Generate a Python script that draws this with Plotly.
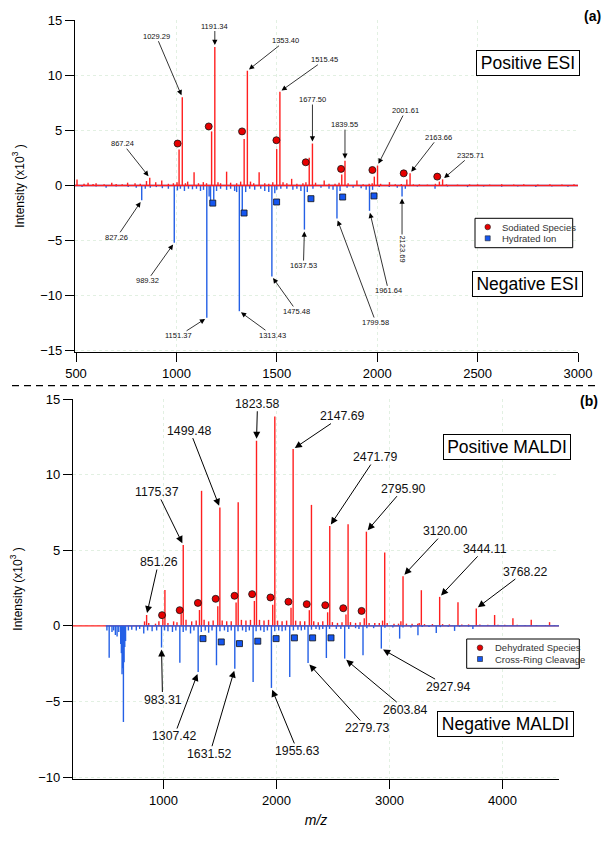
import plotly.graph_objects as go

# ---------------- DATA ----------------
# (a) ESI, positive mode (red sticks)
pos_esi_mz = [867.24, 1029.29, 1191.34, 1353.40, 1515.45, 1677.50, 1839.55, 2001.61, 2163.66, 2325.71]
pos_esi_int = [0.7, 8.0, 12.55, 10.4, 8.5, 3.8, 2.25, 1.8, 1.1, 0.55]
pos_esi_minor_mz = [505, 540, 560, 585, 600, 640, 678, 700, 730, 757, 794, 820, 851, 897, 927, 960, 985,
                    1003, 1013.3, 1045, 1056, 1088, 1110, 1134, 1150, 1175.3, 1207, 1220, 1250, 1270, 1300,
                    1320, 1337.4, 1369, 1385, 1412, 1440, 1460, 1480, 1499.4, 1531, 1550, 1574, 1600, 1630,
                    1645, 1661.5, 1693, 1736, 1760, 1790, 1810, 1823.5, 1855, 1899, 1930, 1960, 1975, 1985.6,
                    2017, 2061, 2090, 2120, 2147.6, 2180, 2210, 2250, 2290, 2309.7, 2345, 2400, 2460, 2500,
                    2560, 2620, 2680, 2730, 2800, 2860, 2920, 2980]
pos_esi_minor_int = [0.55, 0.15, 0.25, 0.12, 0.2, 0.1, 0.25, 0.12, 0.1, 0.25, 0.2, 0.15, 0.4, 0.3, 0.45, 0.15, 0.2,
                     0.3, 3.25, 0.2, 0.35, 1.2, 0.2, 0.3, 0.2, 4.9, 0.3, 0.2, 1.25, 0.25, 0.2,
                     0.35, 4.2, 0.35, 0.2, 1.2, 0.2, 0.15, 0.3, 3.3, 0.3, 0.2, 0.6, 0.15, 0.2,
                     0.3, 2.5, 0.25, 0.45, 0.15, 0.15, 0.25, 1.0, 0.2, 0.45, 0.1, 0.15, 0.2, 0.8,
                     0.15, 0.3, 0.1, 0.12, 0.55, 0.1, 0.1, 0.08, 0.15, 0.35, 0.1, 0.08, 0.1, 0.1,
                     0.08, 0.1, 0.08, 0.1, 0.08, 0.1, 0.08, 0.1]
sodiated_mz = [1006, 1161, 1327, 1498, 1644, 1820, 1976, 2132, 2299]
sodiated_int = [3.8, 5.35, 4.9, 4.1, 2.1, 1.5, 1.4, 1.1, 0.8]

# (a) ESI, negative mode (blue sticks)
neg_esi_mz = [827.26, 989.32, 1151.37, 1313.43, 1475.48, 1637.53, 1799.58, 1961.64, 2123.69]
neg_esi_int = [-1.35, -5.2, -12.0, -11.4, -8.25, -4.0, -3.0, -2.3, -1.0]
neg_esi_minor_mz = [530, 600, 650, 700, 760, 800, 845, 870, 900, 930, 960, 1005, 1020, 1040, 1060, 1080, 1100,
                    1120, 1135, 1163, 1170, 1186, 1200, 1220, 1250, 1270, 1290, 1300, 1328, 1345, 1365, 1390,
                    1420, 1440, 1460, 1490, 1500, 1520, 1550, 1580, 1600, 1620, 1652, 1680, 1720, 1760, 1780,
                    1815, 1850, 1880, 1920, 1945, 1977, 2010, 2060, 2100, 2140, 2200, 2288, 2350, 2450, 2530,
                    2620, 2700, 2790, 2870, 2950]
neg_esi_minor_int = [-0.15, -0.1, -0.2, -0.1, -0.15, -0.2, -0.3, -0.2, -0.15, -0.25, -0.3, -0.45, -0.3, -0.5, -0.3, -0.35, -0.3,
                     -0.5, -0.4, -1.0, -1.6, -1.3, -0.5, -0.3, -0.4, -0.3, -0.5, -0.6, -2.6, -0.6, -0.3, -0.4,
                     -0.3, -0.5, -0.6, -0.7, -0.4, -0.3, -0.3, -0.4, -0.3, -0.5, -0.6, -0.3, -0.2, -0.3, -0.4,
                     -0.5, -0.2, -0.2, -0.25, -0.4, -0.4, -0.15, -0.15, -0.2, -0.3, -0.1, -0.3, -0.1, -0.15, -0.1,
                     -0.12, -0.1, -0.15, -0.1, -0.12]
hydrated_mz = [1181, 1337, 1499, 1670, 1828, 1984]
hydrated_int = [-1.6, -2.5, -1.5, -1.2, -1.05, -0.95]

# (b) MALDI, positive mode (red sticks)
pos_maldi_mz = [851.26, 1013.31, 1175.37, 1337.42, 1499.48, 1661.53, 1823.58, 1985.64, 2147.69, 2309.74,
                2471.79, 2633.85, 2795.90, 2957.95, 3120.00, 3282.06, 3444.11, 3606.16, 3768.22, 3930.27,
                4092.32, 4254.37, 4416.43]
pos_maldi_int = [0.72, 2.37, 5.35, 8.93, 7.82, 8.18, 12.24, 13.85, 11.69, 8.0,
                 6.6, 6.72, 6.23, 4.86, 3.29, 2.36, 1.92, 1.57, 1.15, 0.72,
                 0.5, 0.4, 0.25]
pos_maldi_minor_mz = [833, 870, 930, 960, 995, 1040, 1090, 1120, 1157, 1200, 1250, 1290, 1319, 1360, 1400, 1440,
                      1481, 1520, 1560, 1600, 1643, 1690, 1730, 1770, 1805, 1850, 1890, 1930, 1967, 2010, 2050,
                      2090, 2129, 2170, 2210, 2250, 2291, 2330, 2370, 2410, 2453, 2495, 2540, 2580, 2615, 2655,
                      2700, 2740, 2777, 2820, 2870, 2910, 2939, 2980, 3040, 3080, 3101, 3150, 3200, 3250, 3263,
                      3310, 3380, 3470, 3530, 3640, 3700, 3800, 3870, 3960, 4020, 4130, 4200, 4300, 4380, 4460]
pos_maldi_minor_int = [0.3, 0.2, 0.15, 0.3, 0.45, 0.2, 0.3, 0.25, 0.8, 0.4, 0.3, 0.35, 1.05, 0.4, 0.3, 0.35,
                       1.3, 0.35, 0.3, 0.3, 1.55, 0.4, 0.35, 0.4, 1.65, 0.4, 0.35, 0.4, 1.4, 0.35, 0.3,
                       0.35, 1.2, 0.35, 0.3, 0.3, 1.04, 0.3, 0.25, 0.3, 0.9, 0.25, 0.2, 0.25, 0.75, 0.25,
                       0.2, 0.25, 0.5, 0.2, 0.2, 0.2, 0.35, 0.2, 0.15, 0.15, 0.3, 0.15, 0.15, 0.15, 0.2,
                       0.12, 0.12, 0.12, 0.1, 0.1, 0.1, 0.1, 0.08, 0.08, 0.08, 0.08, 0.06, 0.06, 0.06, 0.05]
dehydrated_mz = [988, 1144, 1305, 1462, 1629, 1785, 1947, 2106, 2268, 2432, 2591, 2753]
dehydrated_int = [0.71, 1.04, 1.52, 1.79, 1.99, 2.1, 1.88, 1.6, 1.44, 1.37, 1.17, 0.99]

# (b) MALDI, negative mode (blue sticks)
neg_maldi_mz = [983.31, 1145.36, 1307.42, 1469.47, 1631.52, 1793.57, 1955.63, 2117.68, 2279.73, 2441.78,
                2603.84, 2765.89, 2927.94, 3089.99, 3252.05, 3414.10, 3576.15, 3738.20]
neg_maldi_int = [-1.43, -2.43, -3.05, -2.6, -2.83, -3.7, -4.1, -3.37, -2.45, -2.12,
                 -2.16, -1.94, -1.5, -0.84, -0.62, -0.47, -0.33, -0.2]
neg_maldi_minor_mz = [500, 520, 545, 560, 575, 590, 605, 622, 628, 634, 640, 646, 652, 658, 665, 690, 720, 760,
                      790, 826, 860, 900, 940, 1010, 1040, 1080, 1110, 1175, 1200, 1240, 1270, 1335, 1370, 1400,
                      1430, 1500, 1540, 1570, 1600, 1660, 1700, 1730, 1760, 1820, 1860, 1890, 1920, 1985, 2020,
                      2050, 2080, 2150, 2190, 2220, 2250, 2310, 2350, 2380, 2410, 2470, 2530, 2570, 2640, 2700,
                      2730, 2800, 2860, 2960, 3030, 3120, 3190, 3290, 3350, 3450, 3520, 3620, 3700]
neg_maldi_minor_int = [-0.3, -2.1, -0.4, -0.3, -0.6, -0.7, -0.4, -1.2, -1.8, -3.2, -2.8, -6.35, -2.4, -1.4, -1.0, -0.3, -0.25, -0.3,
                       -0.2, -0.5, -0.3, -0.35, -0.3, -0.3, -0.35, -0.4, -0.3, -0.4, -0.3, -0.5, -0.3, -0.4, -0.3, -0.45,
                       -0.3, -0.35, -0.3, -0.4, -0.3, -0.35, -0.3, -0.4, -0.3, -0.35, -0.3, -0.4, -0.3, -0.35, -0.3,
                       -0.35, -0.3, -0.3, -0.25, -0.3, -0.25, -0.25, -0.2, -0.25, -0.2, -0.2, -0.2, -0.2, -0.2, -0.15,
                       -0.2, -0.15, -0.15, -0.12, -0.1, -0.1, -0.1, -0.08, -0.08, -0.08, -0.06, -0.06, -0.05]
cross_ring_mz = [1350, 1512, 1673, 1835, 1997, 2159, 2320, 2483]
cross_ring_int = [-0.84, -1.06, -1.17, -1.01, -0.84, -0.79, -0.79, -0.79]

# spectrum baseline extents (m/z)
esi_span = [495, 3000]
maldi_pos_span = [200, 4500]
maldi_neg_span = [490, 4500]

# labelled peaks (value shown = m/z)
pos_esi_labels = pos_esi_mz
neg_esi_labels = neg_esi_mz
pos_maldi_labels = [851.26, 1175.37, 1499.48, 1823.58, 2147.69, 2471.79, 2795.90, 3120.00, 3444.11, 3768.22]
neg_maldi_labels = [983.31, 1307.42, 1631.52, 1955.63, 2279.73, 2603.84, 2927.94]

# ---------------- STYLE / LAYOUT ----------------
W, H = 616, 846
RED = '#ff1f1f'
BLUE = '#2460e6'
MRED = '#e60000'
MBLUE = '#1556f0'
FONT = 'Liberation Sans, Arial, sans-serif'


def px(x):
    return x / W


def py(y):
    return 1 - y / H


def sticks(mz, inten, span, mz2=(), int2=()):
    xs, ys = [span[0], span[1], None], [0, 0, None]
    for m, v in list(zip(mz2, int2)) + list(zip(mz, inten)):
        xs += [m, m, None]
        ys += [0, v, None]
    return xs, ys


fig = go.Figure()

# ---- panel (a)
x, y = sticks(neg_esi_mz, neg_esi_int, esi_span, neg_esi_minor_mz, neg_esi_minor_int)
fig.add_trace(go.Scatter(x=x, y=y, mode='lines', line=dict(color=BLUE, width=1.4),
                         xaxis='x', yaxis='y', showlegend=False, hoverinfo='skip'))
x, y = sticks(pos_esi_mz, pos_esi_int, esi_span, pos_esi_minor_mz, pos_esi_minor_int)
fig.add_trace(go.Scatter(x=x, y=y, mode='lines', line=dict(color=RED, width=1.4),
                         xaxis='x', yaxis='y', showlegend=False, hoverinfo='skip'))
fig.add_trace(go.Scatter(x=sodiated_mz, y=sodiated_int, mode='markers', name='Sodiated Species',
                         marker=dict(symbol='circle', size=7, color=MRED, line=dict(color='#111', width=0.8)),
                         xaxis='x', yaxis='y', showlegend=False))
fig.add_trace(go.Scatter(x=hydrated_mz, y=hydrated_int, mode='markers', name='Hydrated Ion',
                         marker=dict(symbol='square', size=6, color=MBLUE, line=dict(color='#111', width=0.8)),
                         xaxis='x', yaxis='y', showlegend=False))

# ---- panel (b)
x, y = sticks(pos_maldi_mz, pos_maldi_int, maldi_pos_span, pos_maldi_minor_mz, pos_maldi_minor_int)
fig.add_trace(go.Scatter(x=x, y=y, mode='lines', line=dict(color=RED, width=1.4),
                         xaxis='x2', yaxis='y2', showlegend=False, hoverinfo='skip'))
x, y = sticks(neg_maldi_mz, neg_maldi_int, maldi_neg_span, neg_maldi_minor_mz, neg_maldi_minor_int)
fig.add_trace(go.Scatter(x=x, y=y, mode='lines', line=dict(color=BLUE, width=1.4),
                         xaxis='x2', yaxis='y2', showlegend=False, hoverinfo='skip'))
fig.add_trace(go.Scatter(x=dehydrated_mz, y=dehydrated_int, mode='markers', name='Dehydrated Species',
                         marker=dict(symbol='circle', size=7, color=MRED, line=dict(color='#111', width=0.8)),
                         xaxis='x2', yaxis='y2', showlegend=False))
fig.add_trace(go.Scatter(x=cross_ring_mz, y=cross_ring_int, mode='markers', name='Cross-Ring Cleavage',
                         marker=dict(symbol='square', size=6, color=MBLUE, line=dict(color='#111', width=0.8)),
                         xaxis='x2', yaxis='y2', showlegend=False))

annotations = []
shapes = []


def label_peaks(labels, mzs, ints, offs, xr, yr, size, aw, asz, angle=0):
    lookup = dict(zip(mzs, ints))
    for lab, (lx, ly) in zip(labels, offs):
        annotations.append(dict(x=lab, y=lookup[lab], xref=xr, yref=yr, text=f'{lab:.2f}',
                                showarrow=True, ax=lx, ay=ly, arrowhead=2, arrowsize=asz,
                                arrowwidth=aw, arrowcolor='black', standoff=2, borderpad=0,
                                textangle=angle, font=dict(size=size, color='#111', family=FONT)))


# label-centre offsets (pixels from peak top)
pos_esi_offs = [(-27, -34), (-26, -61), (0, -21), (38, -30), (45, -32), (0, -44), (0, -36), (28, -55), (28, -36), (28, -24)]
neg_esi_offs = [(-25, 37), (-27, 38), (-28, 18), (33, 24), (25, 35), (-1, 36), (39, 104), (19, 80)]
label_peaks(pos_esi_labels, pos_esi_mz, pos_esi_int, pos_esi_offs, 'x', 'y', 7.5, 0.8, 1.3)
label_peaks(neg_esi_labels[:-1], neg_esi_mz, neg_esi_int, neg_esi_offs, 'x', 'y', 7.5, 0.8, 1.3)
label_peaks(neg_esi_labels[-1:], neg_esi_mz, neg_esi_int, [(0, 52)], 'x', 'y', 7.5, 0.8, 1.3, angle=90)

pos_maldi_offs = [(12, -53), (-26, -53), (-30, -77), (1, -37), (49, -33), (46, -69), (37, -43), (42, -45), (45, -48), (49, -37)]
neg_maldi_offs = [(1, 52), (-24, 64), (-25, 85), (26, 63), (59, 65), (61, 51), (67, 38)]
label_peaks(pos_maldi_labels, pos_maldi_mz, pos_maldi_int, pos_maldi_offs, 'x2', 'y2', 12.3, 1.0, 1.4)
label_peaks(neg_maldi_labels, neg_maldi_mz, neg_maldi_int, neg_maldi_offs, 'x2', 'y2', 12.3, 1.0, 1.4)

# mode boxes
for txt, cx, cy, w in [('Positive ESI', 527.5, 63, 98), ('Negative ESI', 527.7, 284.2, 105),
                       ('Positive MALDI', 506.7, 447.5, 122), ('Negative MALDI', 505, 724, 131)]:
    annotations.append(dict(x=px(cx), y=py(cy), xref='paper', yref='paper', text=txt, showarrow=False,
                            font=dict(size=17.5, color='black', family=FONT), bordercolor='black',
                            borderwidth=1, borderpad=2, bgcolor='white', width=w, height=20,
                            xanchor='center', yanchor='middle'))

# legends (box, symbol, text)
for box, items in [((475, 218.3, 572.7, 247.7), [(487.7, 227, 'circle', 'Sodiated Species'),
                                                 (487.7, 238.3, 'square', 'Hydrated Ion')]),
                   ((466.7, 639, 579.3, 668.3), [(480, 647.7, 'circle', 'Dehydrated Species'),
                                                 (480, 659, 'square', 'Cross-Ring Cleavage')])]:
    shapes.append(dict(type='rect', xref='paper', yref='paper', x0=px(box[0]), x1=px(box[2]),
                       y0=py(box[3]), y1=py(box[1]), line=dict(color='black', width=1), fillcolor='white',
                       layer='above'))
    for sx, sy, sym, name in items:
        r = 2.8 if sym == 'circle' else 2.5
        shapes.append(dict(type='circle' if sym == 'circle' else 'rect', xref='paper', yref='paper',
                           x0=px(sx - r), x1=px(sx + r), y0=py(sy + r), y1=py(sy - r),
                           fillcolor=MRED if sym == 'circle' else MBLUE,
                           line=dict(color='#222', width=0.6), layer='above'))
        annotations.append(dict(x=px(sx + 12.5), y=py(sy), xref='paper', yref='paper', text=name,
                                showarrow=False, xanchor='left', yanchor='middle',
                                font=dict(size=9.5, color='#333', family=FONT)))

# panel letters
annotations.append(dict(x=px(592.5), y=py(16), xref='paper', yref='paper', showarrow=False, text='<b>(a)</b>',
                        xanchor='center', yanchor='middle', font=dict(size=14, color='black', family=FONT)))
annotations.append(dict(x=px(589), y=py(401), xref='paper', yref='paper', showarrow=False, text='<b>(b)</b>',
                        xanchor='center', yanchor='middle', font=dict(size=14, color='black', family=FONT)))

shapes.append(dict(type='line', xref='paper', yref='paper', x0=px(12), x1=px(598), y0=py(385.7), y1=py(385.7),
                   line=dict(color='black', width=1.3, dash='7px,5px')))

axis_common = dict(showline=True, linecolor='black', linewidth=1.2, ticks='outside', ticklen=9, tickwidth=1,
                   tickcolor='black', showgrid=True, gridcolor='#e2f0e2', griddash='dot', gridwidth=1,
                   zeroline=False, automargin=False, tickfont=dict(size=13, color='black', family=FONT))
ytitle = dict(text='Intensity (x10<sup>3</sup> )', font=dict(size=12, color='black', family=FONT), standoff=13)

fig.update_layout(
    width=W, height=H, autosize=False,
    margin=dict(l=0, r=0, t=0, b=0, pad=0, autoexpand=False),
    paper_bgcolor='white', plot_bgcolor='white',
    font=dict(family=FONT), showlegend=False,
    xaxis=dict(domain=[px(75), px(578)], range=esi_span, anchor='y', tickvals=[500, 1000, 1500, 2000, 2500, 3000],
               **axis_common),
    yaxis=dict(domain=[py(352), py(20)], range=[-15.1, 15], anchor='x', tickvals=[-15, -10, -5, 0, 5, 10, 15],
               title=ytitle, **axis_common),
    xaxis2=dict(domain=[px(73), px(559)], range=[200, 4500], anchor='y2', tickvals=[1000, 2000, 3000, 4000],
                title=dict(text='<i>m/z</i>', font=dict(size=14, color='black', family=FONT), standoff=8),
                **axis_common),
    yaxis2=dict(domain=[py(779), py(399)], range=[-10.12, 15], anchor='x2', tickvals=[-10, -5, 0, 5, 10, 15],
                title=ytitle, **axis_common),
    annotations=annotations,
    shapes=shapes,
)

fig.write_html('out.html', config={'displayModeBar': False},
               post_script="document.body.style.margin='0px';")
